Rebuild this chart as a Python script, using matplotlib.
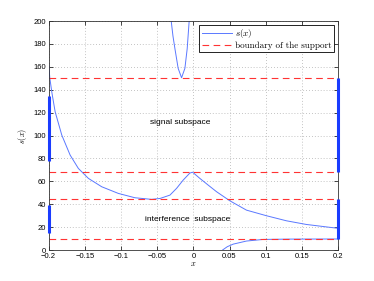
import matplotlib
matplotlib.use("Agg")
import matplotlib.pyplot as plt

plt.rcParams['font.family'] = ['Liberation Sans', 'DejaVu Sans']
plt.rcParams['mathtext.fontset'] = 'cm'

# main branch of s(x)
main_x = [-0.2, -0.1983, -0.1956, -0.191, -0.1818, -0.1703, -0.1589, -0.145, -0.1266,
          -0.1037, -0.0807, -0.0577, -0.046, -0.0324, -0.0232, -0.0141, -0.0048,
          -0.001, 0.009, 0.0204, 0.032, 0.0503, 0.0734, 0.101, 0.1285, 0.156, 0.2]
main_y = [163, 150, 138, 120.8, 100.4, 83, 71.3, 62.6, 55.3,
          49.5, 45.7, 44.3, 45.1, 48, 53.9, 61.1, 67.3,
          68, 62.6, 56.8, 51, 43.1, 34.9, 30, 25.6, 22.4, 19.0]
# upper U-shaped branch
u_x = [-0.0312, -0.0306, -0.0282, -0.0255, -0.021, -0.0163, -0.0117, -0.0085, -0.0058, -0.0054]
u_y = [210, 200, 187, 176, 158.7, 150.5, 158.7, 176, 200, 205]
# lower branch
low_x = [0.0395, 0.0402, 0.047, 0.055, 0.0734, 0.0963, 0.133, 0.2]
low_y = [-2, 0, 3, 5.2, 7.9, 9.3, 9.6, 9.7]

boundaries = [150, 67.8, 44.3, 9.6]
left_support = [(78, 135), (15, 39)]
right_support = [(67.8, 150), (9.6, 44.3)]

fig = plt.figure(figsize=(3.74, 2.81), dpi=100)
ax = fig.add_axes([0.130, 0.110, 0.774, 0.815])

curve_c = '#5a78ff'
ax.plot(main_x, main_y, color=curve_c, lw=0.7, label='$s(x)$')
ax.plot(u_x, u_y, color=curve_c, lw=0.7)
ax.plot(low_x, low_y, color=curve_c, lw=0.7)
for i, b in enumerate(boundaries):
    ax.axhline(b, color='#ff3333', lw=0.8, ls=(0, (6, 4)),
               label='boundary of the support' if i == 0 else None)
for lo, hi in left_support:
    ax.plot([-0.2, -0.2], [lo, hi], color='#1a3cff', lw=2.2,
            solid_capstyle='butt', zorder=5, clip_on=False)
for lo, hi in right_support:
    ax.plot([0.2, 0.2], [lo, hi], color='#1a3cff', lw=2.2,
            solid_capstyle='butt', zorder=5, clip_on=False)

ax.text(-0.0186, 111, 'signal subspace', fontsize=6, ha='center', va='center')
ax.text(-0.0074, 27, 'interference  subspace', fontsize=6, ha='center', va='center')

ax.set_xlim(-0.2, 0.2)
ax.set_ylim(0, 200)
ax.set_xticks([-0.2, -0.15, -0.1, -0.05, 0, 0.05, 0.1, 0.15, 0.2])
ax.set_xticklabels(['\u22120.2', '\u22120.15', '\u22120.1', '\u22120.05', '0',
                    '0.05', '0.1', '0.15', '0.2'])
ax.set_yticks(range(0, 201, 20))
ax.tick_params(direction='in', length=3, width=0.5, labelsize=5.5,
               top=True, right=True, pad=2)
ax.grid(True, color='#b0b0b0', ls=(0, (1, 2.5)), lw=0.6)
for s in ax.spines.values():
    s.set_linewidth(0.6)
    s.set_color('#333333')
ax.set_xlabel('$x$', fontsize=6, labelpad=0)
ax.set_ylabel('$s(x)$', fontsize=6, labelpad=3)

leg = ax.legend(loc='upper right', frameon=True, fancybox=False,
                edgecolor='black', framealpha=1, handlelength=3.4, borderpad=0.3,
                labelspacing=0.1, handletextpad=0.3, borderaxespad=0.4,
                prop={'family': 'cmr10', 'size': 6.5})
leg.get_frame().set_linewidth(0.6)

fig.savefig('out.png', dpi=100)
